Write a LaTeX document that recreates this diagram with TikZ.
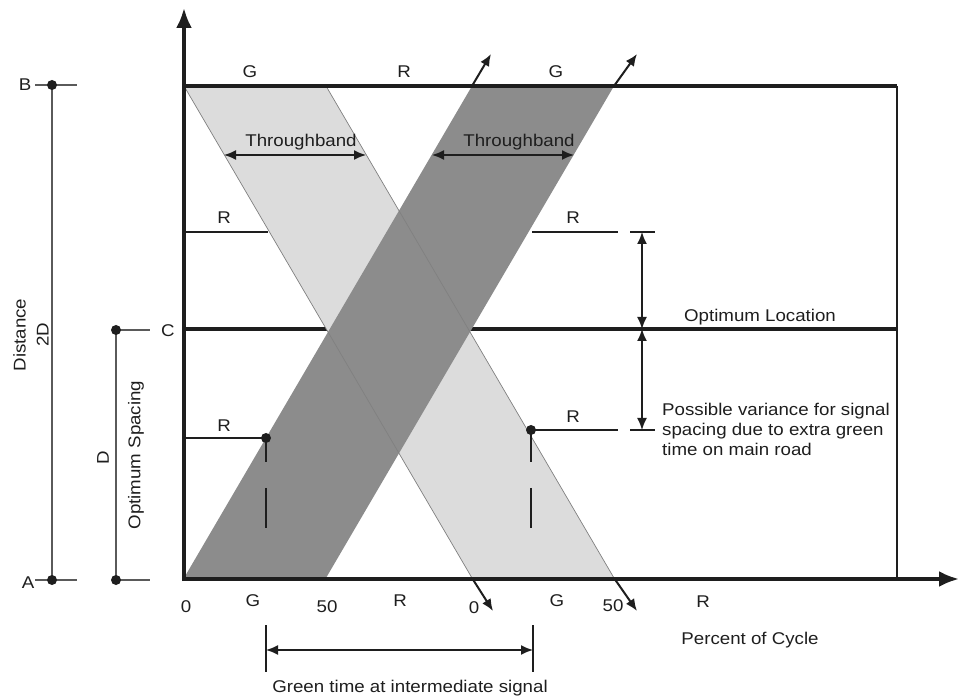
\documentclass[tikz,border=0pt]{standalone}
\usepackage{fontspec}
\setmainfont{Liberation Sans}[FakeStretch=1.1]
\usepackage{tikz}
\usetikzlibrary{positioning,arrows.meta}
\definecolor{bandlight}{HTML}{DCDCDC}
\definecolor{banddark}{HTML}{8C8C8C}
\definecolor{ink}{HTML}{1E1E1E}
\definecolor{dimgray}{HTML}{5A5A5A}

\begin{document}
\begin{tikzpicture}[x=1pt,y=-1pt,
  lab/.style={text=ink,font=\fontsize{17}{20}\selectfont,inner sep=1pt},
  axisline/.style={draw=ink,line width=3.4pt},
  thinline/.style={draw=ink,line width=1.6pt},
  dimline/.style={draw=dimgray,line width=1.6pt},
  dimarrow/.style={draw=ink,line width=1.6pt,{Latex[length=12pt,width=10pt]}-{Latex[length=12pt,width=10pt]}},
  tiparrow/.style={draw=ink,line width=2pt,-{Latex[length=12pt,width=10pt]}}]
\useasboundingbox (0,0) rectangle (959,700);
\coordinate (O) at (184,579);
\coordinate (ytip) at (184,8);
\coordinate (xtip) at (959,579);
\coordinate (TL) at (184,86);
\coordinate (TR) at (897,86);
\coordinate (BR) at (897,579);
\coordinate (CL) at (184,329);
\coordinate (CR) at (897,329);
% signal lines and frame
\draw[axisline] (CL) -- (CR);
\draw[draw=ink,line width=2.6pt] (TR) -- (BR);
\draw[thinline] (184,232) -- (268,232) (532,232) -- (618,232);
\draw[thinline] (184,438) -- (266,438) (530,430) -- (618,430);
% bands
\coordinate (la) at (184,86);  \coordinate (lb) at (326,86);
\coordinate (lc) at (614,578); \coordinate (ld) at (472,578);
\coordinate (da) at (184,578); \coordinate (db) at (326,578);
\coordinate (dc) at (614,86);  \coordinate (dd) at (472,86);
\fill[bandlight] (la) -- (lb) -- (lc) -- (ld) -- cycle;
\fill[banddark] (da) -- (db) -- (dc) -- (dd) -- cycle;
\draw[gray,line width=0.7pt] (la) -- (ld) (lb) -- (lc);
\coordinate (ld2) at (493,611); \coordinate (lc2) at (637,611);
\coordinate (dd2) at (491,54);  \coordinate (dc2) at (637,54);
\draw[tiparrow] (ld) -- (ld2);
\draw[tiparrow] (lc) -- (lc2);
\draw[tiparrow] (dd) -- (dd2);
\draw[tiparrow] (dc) -- (dc2);
\draw[axisline] (TL) -- (TR);
\draw[axisline,-{Latex[length=20pt,width=16pt]}] (184,581) -- (ytip);
\draw[axisline,-{Latex[length=20pt,width=16pt]}] (182,579) -- (xtip);
% throughbands
\draw[dimarrow] (224,155) -- (366,155);
\draw[dimarrow] (432,155) -- (574,155);
\node[lab] (tb1) at (301,142) {Throughband};
\node[lab] (tb2) at (519,142) {Throughband};
% intermediate signal
\coordinate (s1) at (266,438);
\coordinate (s2) at (531,430);
\fill[ink] (s1) circle (5pt) (s2) circle (5pt);
\draw[thinline] (s1) -- (266,462) (266,488) -- (266,528);
\draw[thinline] (s2) -- (531,462) (531,488) -- (531,528);
\foreach \xx/\yy in {224/218,573/218,224/426,573/417} {\node[lab] (r\xx\yy) at (\xx,\yy) {R};}
\foreach \xx/\lab in {250/G,404/R,556/G} {\node[lab] (t\xx) at (\xx,72) {\lab};}
\foreach \xx/\yy/\lab in {186/607/0,253/601/G,327/607/50,400/601/R,474/608/0,557/601/G,613/606/50,703/602/R} {\node[lab] (b\xx) at (\xx,\yy) {\lab};}
% variance
\draw[thinline] (630,232) -- (655,232) (630,430) -- (655,430);
\draw[dimarrow] (642,232) -- (642,329);
\draw[dimarrow] (642,329) -- (642,430);
\node[lab] (optloc) at (760,317) {Optimum Location};
\node[lab,anchor=west,align=left] (var) at (661,429) {Possible variance for signal\\spacing due to extra green\\time on main road};
% green time
\draw[thinline] (266,625) -- (266,672) (533,625) -- (533,672);
\draw[dimarrow] (266,650) -- (533,650);
\node[lab] (green) at (410,688) {Green time at intermediate signal};
\node[lab] (pct) at (750,640) {Percent of Cycle};
% distances
\coordinate (B) at (52,85); \coordinate (A) at (52,580);
\coordinate (C) at (116,330); \coordinate (D0) at (116,580);
\draw[dimline] (35,85) -- (77,85) (35,580) -- (77,580) (B) -- (A);
\draw[dimline] (C) -- (150,330) (D0) -- (150,580) (C) -- (D0);
\fill[ink] (B) circle (5pt) (A) circle (5pt) (C) circle (5pt) (D0) circle (5pt);
\node[lab] (labB) at (25,85) {B};
\node[lab] (labA) at (28,583) {A};
\node[lab] (labC) at (168,331) {C};
\node[lab,rotate=90,align=center,font=\fontsize{17}{23}\selectfont] (dist) at (31,335) {Distance\\2D};
\node[lab,rotate=90] (labD) at (103,458) {D};
\node[lab,rotate=90] (optsp) at (136,455) {Optimum Spacing};
\end{tikzpicture}
\end{document}
